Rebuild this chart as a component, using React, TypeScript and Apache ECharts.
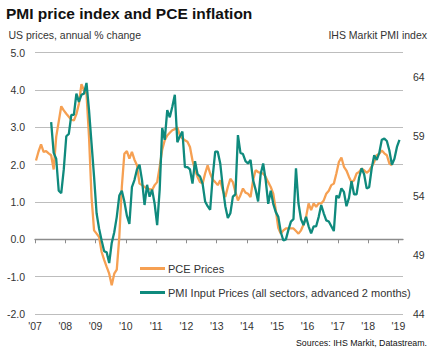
import React, { useEffect, useRef } from "react";
import * as echarts from "echarts";

const titleText = "PMI price index and PCE inflation";
const leftAxisName = "US prices, annual % change";
const rightAxisName = "IHS Markit PMI index";
const sourceText = "Sources: IHS Markit, Datastream.";

const yearTicks = [2007, 2008, 2009, 2010, 2011, 2012, 2013, 2014, 2015, 2016, 2017, 2018, 2019];
const rightTicks = [44, 49, 54, 59, 64];

const pceName = "PCE Prices";
const pmiName = "PMI Input Prices (all sectors, advanced 2 months)";

// monthly, first value = Jan 2007
const pceStartMonth = 0;
const pceValues = [
  // 2007
  2.11, 2.35, 2.54, 2.34, 2.36, 2.3, 2.25, 1.87, 2.74, 3.15, 3.56, 3.45,
  // 2008
  3.36, 3.28, 3.2, 3.18, 3.35, 3.63, 4.15, 3.99, 3.9, 2.74, 1.13, 0.24,
  // 2009
  0.15, 0.06, -0.34, -0.55, -0.74, -0.92, -1.23, -0.92, -0.81, 0.06, 1.4, 2.29,
  // 2010
  2.36, 2.16, 2.34, 2.13, 1.98, 1.49, 1.45, 1.4, 1.36, 1.34, 1.32, 1.45,
  // 2011
  1.53, 1.94, 2.4, 2.65, 2.78, 2.85, 2.92, 2.95, 3.0, 2.78, 2.7, 2.65,
  // 2012
  2.61, 2.47, 2.11, 1.85, 1.67, 1.53, 1.49, 1.76, 1.98, 1.76, 1.6, 1.53,
  // 2013
  1.45, 1.58, 1.31, 1.13, 1.4, 1.62, 1.53, 1.27, 1.04, 1.18, 1.36, 1.25,
  // 2014
  1.22, 1.13, 1.58, 1.85, 1.8, 1.78, 1.76, 1.67, 1.53, 1.4, 1.22, 0.78,
  // 2015
  0.3, 0.15, 0.24, 0.29, 0.29, 0.29, 0.29, 0.22, 0.15, 0.24, 0.4, 0.6,
  // 2016
  0.96, 0.78, 0.96, 0.87, 0.96, 0.96, 1.04, 1.22, 1.3, 1.45, 1.49, 1.76,
  // 2017
  2.07, 2.19, 1.94, 1.84, 1.67, 1.53, 1.58, 1.76, 1.8, 1.89, 1.85, 1.78,
  // 2018 (Jan-Oct)
  1.84, 1.95, 2.07, 2.25, 2.29, 2.38, 2.3, 2.25, 2.03, 1.98,
];

// monthly, first value = Jul 2007
const pmiStartMonth = 6;
const pmiValues = [
  // 2007 Jul-Dec
  60.2, 57.6, 57.1, 54.4, 54.2, 56.2,
  // 2008
  59.0, 59.2, 60.8, 60.8, 62.6, 61.9, 62.5, 62.6, 63.5, 61.2, 58.4, 55.6,
  // 2009
  52.5, 51.2, 50.2, 49.3, 49.2, 48.3, 50.0, 50.9, 52.2, 54.0, 54.4, 53.5,
  // 2010
  52.3, 51.6, 54.7, 55.3, 56.2, 56.6, 55.3, 53.2, 54.9, 53.9, 54.5, 53.3,
  // 2011
  51.5, 54.5, 59.7, 58.7, 61.2, 60.6, 61.5, 62.5, 58.5, 59.0, 59.4, 56.4,
  // 2012
  56.4, 56.2, 55.0, 56.9, 55.8, 55.6, 55.0, 53.5, 53.1, 52.8, 55.6, 57.7,
  // 2013
  57.7, 56.7, 54.7, 53.1, 52.1, 52.5, 53.9, 54.1, 59.1, 57.6, 57.5, 56.9,
  // 2014
  56.7, 57.0, 55.3, 54.5, 53.5, 55.8, 56.7, 55.3, 53.3, 54.4, 53.3, 52.6,
  // 2015
  52.2, 50.9, 50.2, 50.3, 51.1, 51.8, 52.0, 56.3, 53.3, 52.0, 51.5, 52.2,
  // 2016
  51.4, 50.8, 51.4, 51.4, 52.2, 53.2, 52.5, 51.9, 51.8, 51.4, 51.0, 54.0,
  // 2017
  53.8, 54.6, 54.3, 53.1, 53.8, 55.2, 54.1, 54.1, 55.5, 56.3, 55.8, 54.6,
  // 2018
  54.7, 56.3, 57.4, 57.0, 57.6, 58.7, 58.8, 58.6, 57.8, 56.6, 57.1, 58.1,
  // 2019
  58.7,
];

const orange = "#F6A052";
const teal = "#0F8A7D";
const FONT = "'Liberation Sans', Arial, Helvetica, sans-serif";

function toSeries(values: number[], startMonth: number) {
  return values.map((v, i) => [2007 + (startMonth + i + 0.4) / 12, v]);
}

export default function App() {
  const ref = useRef<HTMLDivElement>(null);

  useEffect(() => {
    if (!ref.current) return;
    const chart = echarts.init(ref.current, undefined, { renderer: "svg" });
    const labelStyle = { color: "#333", fontSize: 10.5, fontFamily: FONT };
    chart.setOption({
      animation: false,
      backgroundColor: "#ffffff",
      textStyle: { fontFamily: FONT },
      grid: { left: 35, right: 34, top: 52.5, bottom: 40, containLabel: false },
      legend: {
        orient: "vertical",
        left: 135,
        top: 258,
        itemWidth: 25,
        itemHeight: 3,
        itemGap: 13,
        icon: "rect",
        textStyle: { color: "#333", fontSize: 11, fontFamily: FONT, padding: [0, 0, 0, -2] },
        data: [pceName, pmiName],
      },
      xAxis: {
        type: "value",
        min: 2007,
        max: 2019.15,
        interval: 1,
        axisLine: { show: true, lineStyle: { color: "#8c8c8c", width: 1.3 } },
        axisTick: { show: true, length: 4, customValues: yearTicks, lineStyle: { color: "#8c8c8c" } },
        axisLabel: {
          ...labelStyle,
          margin: 6,
          customValues: yearTicks,
          formatter: (v: number) => "'" + String(Math.round(v)).slice(2),
        },
        splitLine: { show: false },
      },
      yAxis: [
        {
          type: "value",
          min: -2,
          max: 5,
          interval: 1,
          position: "left",
          axisLine: { show: false },
          axisTick: { show: false },
          axisLabel: { ...labelStyle, margin: 10, formatter: (v: number) => v.toFixed(1) },
          splitLine: { show: true, lineStyle: { color: "#bdbdbd", width: 1 } },
        },
        {
          type: "value",
          min: 44,
          max: 66.07,
          interval: 5,
          position: "right",
          axisLine: { show: false },
          axisTick: { show: false },
          axisLabel: { ...labelStyle, margin: 10, customValues: rightTicks },
          splitLine: { show: false },
        },
      ],
      series: [
        {
          name: pceName,
          type: "line",
          yAxisIndex: 0,
          data: toSeries(pceValues, pceStartMonth),
          showSymbol: false,
          symbol: "none",
          lineStyle: { color: orange, width: 2.3 },
          itemStyle: { color: orange },
        },
        {
          name: pmiName,
          type: "line",
          yAxisIndex: 1,
          data: toSeries(pmiValues, pmiStartMonth),
          showSymbol: false,
          symbol: "none",
          lineStyle: { color: teal, width: 2.3 },
          itemStyle: { color: teal },
        },
      ],
      graphic: [
        {
          type: "text",
          x: 6,
          y: 13.5,
          style: {
            text: titleText,
            fill: "#111",
            fontSize: 15.5,
            fontWeight: "bold",
            fontFamily: FONT,
            align: "left",
            verticalAlign: "middle",
          },
        },
        {
          type: "text",
          x: 8.5,
          y: 35,
          style: {
            text: leftAxisName,
            fill: "#333",
            fontSize: 10.5,
            fontFamily: FONT,
            align: "left",
            verticalAlign: "middle",
          },
        },
        {
          type: "text",
          x: 427,
          y: 35,
          style: {
            text: rightAxisName,
            fill: "#333",
            fontSize: 10.5,
            fontFamily: FONT,
            align: "right",
            verticalAlign: "middle",
          },
        },
        {
          type: "text",
          x: 427,
          y: 343,
          style: {
            text: sourceText,
            fill: "#111",
            fontSize: 8.8,
            fontFamily: FONT,
            align: "right",
            verticalAlign: "middle",
          },
        },
      ],
    });
    return () => chart.dispose();
  }, []);

  return (
    <div
      ref={ref}
      style={{ position: "fixed", left: 0, top: 0, width: 437, height: 354, background: "#fff" }}
    />
  );
}
